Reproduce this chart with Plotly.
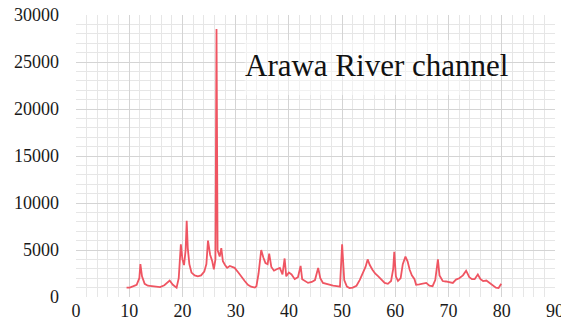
import plotly.graph_objects as go

# Time (x) and discharge-like values (y)
x_vals = [9.5, 10.1, 10.8, 11.4, 11.9, 12.1, 12.4, 12.9, 13.5, 14.2, 15.0, 15.8, 16.6, 17.2, 17.6,
          18.2, 18.9, 19.3, 19.7, 20.0, 20.3, 20.6, 20.8, 21.0, 21.3, 21.7, 22.3, 22.9, 23.5, 24.1,
          24.5, 24.8, 25.2, 25.6, 25.9, 26.2, 26.4, 26.6, 27.0, 27.3, 27.6, 28.0, 28.4, 28.9, 29.3,
          29.8, 30.5, 31.1, 31.7, 32.3, 32.9, 33.6, 33.9, 34.3, 34.8, 35.2, 35.6, 36.0, 36.3, 36.7,
          37.2, 37.7, 38.3, 38.8, 39.2, 39.5, 40.0, 40.5, 41.1, 41.7, 42.2, 42.5, 43.0, 43.6, 44.3,
          44.9, 45.5, 45.9, 46.4, 47.0, 47.6, 48.3, 49.0, 49.6, 50.0, 50.4, 50.9, 51.4, 52.0, 52.7,
          53.3, 53.9, 54.4, 54.8, 55.2, 55.7, 56.2, 56.8, 57.4, 58.0, 58.6, 59.2, 59.6, 59.8, 60.1,
          60.5, 61.0, 61.4, 61.9, 62.3, 62.7, 63.1, 63.6, 63.9, 64.5, 65.2, 65.8, 66.4, 67.0, 67.5,
          67.8, 68.0, 68.3, 68.9, 69.5, 70.1, 70.8, 71.4, 72.0, 72.7, 73.3, 73.9, 74.4, 74.9, 75.5,
          76.0, 76.5, 77.1, 77.7, 78.3, 78.9, 79.4, 79.9]
y_vals = [1000, 1000, 1150, 1300, 2000, 3500, 2200, 1400, 1200, 1150, 1100, 1050, 1250, 1550, 1750,
          1300, 1000, 2000, 5600, 4000, 3400, 5000, 8100, 5200, 3500, 2600, 2300, 2200, 2300, 2700,
          3500, 6000, 4500, 3800, 2950, 4000, 28500, 5000, 4300, 5200, 3800, 3400, 3100, 3300, 3200,
          3100, 2600, 2100, 1700, 1300, 1100, 1000, 1150, 2500, 5000, 4200, 3600, 3500, 4600, 3200,
          2800, 2950, 3100, 2400, 4100, 2200, 2600, 2400, 1900, 2100, 3300, 1900, 1700, 1500, 1600,
          1800, 3100, 2000, 1500, 1400, 1300, 1200, 1150, 1100, 5600, 1800, 1100, 950, 1000, 1200,
          1800, 2600, 3200, 4000, 3400, 2900, 2500, 2200, 1800, 1500, 1400, 1700, 3000, 4800, 2200,
          1700, 2000, 3500, 4300, 3800, 2900, 2300, 1900, 1300, 1350, 1400, 1500, 1200, 1150, 1800,
          3200, 4000, 2300, 1700, 1650, 1600, 1500, 1850, 2000, 2300, 2800, 2100, 1900, 1900, 2400,
          1900, 1700, 1750, 1500, 1200, 1000, 950, 1400]

chart_label = "Arawa River channel"

SERIF = "Liberation Serif"

fig = go.Figure()
fig.add_trace(go.Scatter(x=x_vals, y=y_vals, mode="lines",
                         line=dict(color="#ef5562", width=1.8), showlegend=False))

tick_font = dict(family=SERIF, size=18, color="#1a1a1a")

fig.update_xaxes(range=[0, 90], dtick=10, tick0=0, showgrid=True, gridcolor="#d4d4d4", gridwidth=1,
                 minor=dict(dtick=2, showgrid=True, gridcolor="#e6e6e6", gridwidth=1),
                 zeroline=False, showline=False, ticks="", tickfont=tick_font,
                 ticklabelstandoff=1, automargin=False, ticklabeloverflow="allow")
fig.update_yaxes(range=[0, 30000], dtick=5000, tick0=0, tickformat="d",
                 showgrid=True, gridcolor="#d4d4d4", gridwidth=1,
                 minor=dict(dtick=1000, showgrid=True, gridcolor="#e6e6e6", gridwidth=1),
                 zeroline=False, showline=False, ticks="", tickfont=tick_font,
                 ticklabelstandoff=16, automargin=False, ticklabeloverflow="allow")

fig.add_shape(type="rect", xref="paper", yref="paper",
              x0=(245 - 76) / 480, x1=(462 - 76) / 480,
              y0=(297 - 95) / 282, y1=(297 - 40) / 282,
              fillcolor="rgba(255,255,255,0.45)", line=dict(width=0), layer="above")

fig.add_annotation(text=chart_label, xref="paper", yref="paper",
                   x=(377 - 76) / 480, y=(297 - 65) / 282, showarrow=False,
                   xanchor="center", yanchor="middle",
                   font=dict(family=SERIF, size=31, color="#111111"))

# page body has an 8px margin, so the figure is 8px smaller and offset
fig.update_layout(width=561, height=312,
                  margin=dict(l=68, r=14, t=7, b=23, autoexpand=False),
                  font=dict(family=SERIF, size=17, color="#222222"),
                  paper_bgcolor="white", plot_bgcolor="white")

fig.write_html("out.html")
